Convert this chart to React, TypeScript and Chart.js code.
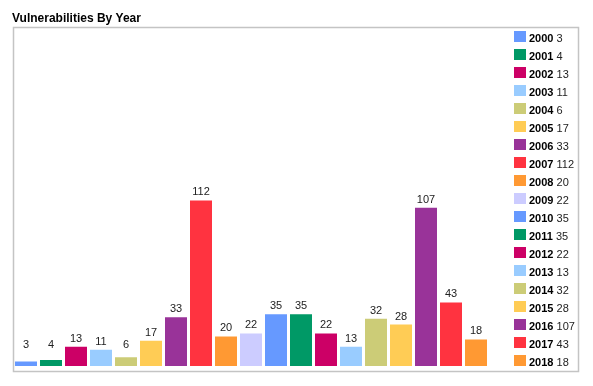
import React, { useEffect, useRef } from "react";
import { Chart, registerables } from "chart.js";

Chart.register(...registerables);

const TITLE = "Vulnerabilities By Year";
const years = ["2000","2001","2002","2003","2004","2005","2006","2007","2008","2009","2010","2011","2012","2013","2014","2015","2016","2017","2018"];
const counts = [3, 4, 13, 11, 6, 17, 33, 112, 20, 22, 35, 35, 22, 13, 32, 28, 107, 43, 18];
const palette = ["#6699ff","#009966","#cc0066","#99ccff","#cccc77","#ffcc55","#993399","#ff3340","#ff9933","#ccccff"];
const colors = years.map((_, i) => palette[i % palette.length]);

const FONT = "Arial, 'Liberation Sans', sans-serif";

const decorPlugin = {
  id: "decor",
  afterDatasetsDraw(chart: any) {
    const ctx = chart.ctx as CanvasRenderingContext2D;
    const meta = chart.getDatasetMeta(0);
    ctx.save();
    // value labels
    ctx.font = `11px ${FONT}`;
    ctx.fillStyle = "#222";
    ctx.textAlign = "center";
    ctx.textBaseline = "alphabetic";
    meta.data.forEach((el: any, i: number) => {
      const y = Math.min(el.y - 5, el.base - 18);
      ctx.fillText(String(counts[i]), el.x, y);
    });
    // border
    ctx.strokeStyle = "#c4c4c4";
    ctx.lineWidth = 1.5;
    ctx.strokeRect(13.5, 27.5, 565, 344);
    // title
    ctx.textAlign = "left";
    ctx.fillStyle = "#000";
    ctx.font = `bold 12px ${FONT}`;
    ctx.fillText(TITLE, 12, 22);
    // legend
    years.forEach((yr, i) => {
      const top = 31 + i * 18;
      ctx.fillStyle = colors[i];
      ctx.fillRect(514, top, 12, 11);
      ctx.font = `bold 11px ${FONT}`;
      ctx.fillStyle = "#000";
      ctx.fillText(yr, 529, top + 11);
      const w = ctx.measureText(yr + " ").width;
      ctx.font = `11px ${FONT}`;
      ctx.fillStyle = "#222";
      ctx.fillText(String(counts[i]), 529 + w, top + 11);
    });
    ctx.restore();
  },
};

export default function App() {
  const ref = useRef<HTMLCanvasElement | null>(null);
  useEffect(() => {
    if (!ref.current) return;
    const chart = new Chart(ref.current, {
      type: "bar",
      data: {
        labels: years,
        datasets: [
          {
            data: counts,
            backgroundColor: colors,
            borderWidth: 0,
            barPercentage: 0.88,
            categoryPercentage: 1,
          },
        ],
      },
      options: {
        animation: false,
        responsive: false,
        devicePixelRatio: 1,
        layout: { padding: { left: 13.5, right: 104.5, top: 29, bottom: 20 } },
        scales: {
          x: { display: false },
          y: { display: false, min: 0, max: 228 },
        },
        plugins: {
          legend: { display: false },
          title: { display: false },
          tooltip: { enabled: false },
        },
      },
      plugins: [decorPlugin],
    });
    return () => chart.destroy();
  }, []);
  return (
    <div style={{ position: "fixed", left: 0, top: 0, width: 593, height: 386, background: "#fff" }}>
      <canvas ref={ref} width={593} height={386} style={{ width: 593, height: 386, display: "block" }} />
    </div>
  );
}
